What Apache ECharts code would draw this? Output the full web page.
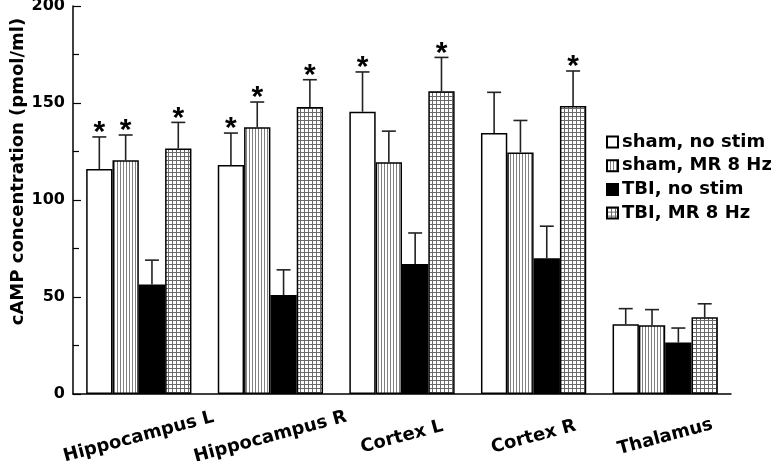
<!DOCTYPE html>
<html>
<head>
<meta charset="utf-8">
<script src="https://cdn.jsdelivr.net/npm/echarts@6/dist/echarts.min.js"></script>
<style>html,body{margin:0;padding:0;background:#fff;}#chart{width:771px;height:461px;}</style>
</head>
<body>
<div id="chart"></div>
<script>
var categories = ['Hippocampus L', 'Hippocampus R', 'Cortex L', 'Cortex R', 'Thalamus'];
var seriesNames = ['sham, no stim', 'sham, MR 8 Hz', 'TBI, no stim', 'TBI, MR 8 Hz'];
var shamNoStim = [116, 118, 145.5, 134.5, 36];
var shamNoStimErr = [16.5, 16.5, 20.5, 21, 8];
var shamMR = [120.5, 137.5, 119.5, 124.5, 35.5];
var shamMRErr = [13, 13, 16, 16.5, 8];
var tbiNoStim = [56.5, 51, 67, 70, 26.5];
var tbiNoStimErr = [12.5, 13, 16, 16.5, 7.5];
var tbiMR = [126.5, 148, 156, 148.5, 39.5];
var tbiMRErr = [13.5, 14, 17.5, 18, 7];
var shamNoStimStar = [1, 1, 1, 0, 0];
var shamMRStar = [1, 1, 0, 0, 0];
var tbiNoStimStar = [0, 0, 0, 0, 0];
var tbiMRStar = [1, 1, 1, 1, 0];
var yTicks = [0, 50, 100, 150, 200];

function makePattern(kind) {
  var c = document.createElement('canvas');
  if (kind === 'v') {
    c.width = 3; c.height = 3;
    var g = c.getContext('2d');
    g.fillStyle = '#fff'; g.fillRect(0, 0, 3, 3);
    g.fillStyle = '#808080'; g.fillRect(0, 0, 1, 3);
  } else {
    c.width = 4; c.height = 4;
    var g2 = c.getContext('2d');
    g2.fillStyle = '#fff'; g2.fillRect(0, 0, 4, 4);
    g2.fillStyle = '#6a6a6a'; g2.fillRect(0, 0, 4, 1); g2.fillRect(0, 0, 1, 4);
  }
  return { image: c, repeat: 'repeat' };
}

var values = [shamNoStim, shamMR, tbiNoStim, tbiMR];
var errs = [shamNoStimErr, shamMRErr, tbiNoStimErr, tbiMRErr];
var stars = [shamNoStimStar, shamMRStar, tbiNoStimStar, tbiMRStar];
var fills = ['#ffffff', makePattern('v'), '#000000', makePattern('g')];

var errData = [];
for (var s = 0; s < 4; s++) {
  for (var i = 0; i < categories.length; i++) {
    errData.push([i, s, values[s][i], errs[s][i], stars[s][i]]);
  }
}

var series = [];
for (var k = 0; k < 4; k++) {
  series.push({
    name: seriesNames[k],
    type: 'bar',
    data: values[k],
    barGap: '0%',
    barCategoryGap: '20%',
    itemStyle: { color: fills[k], borderColor: '#000', borderWidth: 1.5 },
    emphasis: { disabled: true },
    z: 2
  });
}
series.push({
  type: 'custom',
  data: errData,
  z: 5,
  renderItem: function (params, api) {
    var cat = api.value(0), si = api.value(1), v = api.value(2), e = api.value(3), st = api.value(4);
    var band = api.size([1, 0])[0];
    var bw = band * 0.8 / 4;
    var cx = api.coord([cat, 0])[0] + (si - 1.5) * bw;
    var y0 = api.coord([cat, v])[1];
    var y1 = api.coord([cat, v + e])[1];
    var children = [
      { type: 'line', shape: { x1: cx, y1: y0, x2: cx, y2: y1 }, style: { stroke: '#222', lineWidth: 1.6 } },
      { type: 'line', shape: { x1: cx - 7, y1: y1, x2: cx + 7, y2: y1 }, style: { stroke: '#222', lineWidth: 1.6 } }
    ];
    if (st) {
      children.push({ type: 'text', x: cx, y: y1 - 4, style: { text: '*', fill: '#000', font: 'bold 30px "Liberation Sans", Arial, sans-serif', align: 'center', verticalAlign: 'middle' } });
    }
    return { type: 'group', children: children };
  }
});

var chart = echarts.init(document.getElementById('chart'), null, { renderer: 'canvas' });
chart.setOption({
  animation: false,
  backgroundColor: '#fff',
  grid: { left: 73, right: 40, top: 6, bottom: 67, containLabel: false, outerBoundsMode: 'none' },
  legend: {
    orient: 'vertical',
    left: 601,
    top: 128,
    itemWidth: 11,
    itemHeight: 11,
    itemGap: 5.7,
    icon: 'rect',
    selectedMode: false,
    data: seriesNames,
    textStyle: { fontFamily: '"DejaVu Sans", sans-serif', fontWeight: 'bold', fontSize: 18, lineHeight: 18, color: '#000', padding: [0, 0, 0, -1] }
  },
  xAxis: {
    type: 'category',
    data: categories,
    axisLine: { lineStyle: { color: '#000', width: 1.5 } },
    axisTick: { show: false },
    axisLabel: {
      rotate: 15, align: 'center', verticalAlign: 'middle', margin: 43, interval: 0,
      fontFamily: '"DejaVu Sans", sans-serif', fontWeight: 'bold', fontSize: 18, color: '#000'
    }
  },
  yAxis: {
    type: 'value',
    min: 0, max: 200, interval: 50,
    axisLine: { show: true, lineStyle: { color: '#000', width: 1.5 } },
    axisTick: { show: true, inside: true, length: 8, lineStyle: { color: '#000', width: 1.2 } },
    minorTick: { show: true, splitNumber: 2, length: 6, lineStyle: { color: '#000', width: 1.2 } },
    splitLine: { show: false },
    axisLabel: {
      margin: 8, color: '#000', fontFamily: '"DejaVu Sans", sans-serif', fontWeight: 'bold', fontSize: 16,
      formatter: function (v) { return yTicks.indexOf(v) >= 0 ? String(v) : ''; }
    }
  },
  graphic: [{
    type: 'text',
    x: 18.5, y: 171.5,
    rotation: Math.PI / 2,
    style: { text: 'cAMP concentration (pmol/ml)', font: 'bold 18px "DejaVu Sans", sans-serif', fill: '#000', align: 'center', verticalAlign: 'middle' }
  }],
  series: series
});
</script>
</body>
</html>
